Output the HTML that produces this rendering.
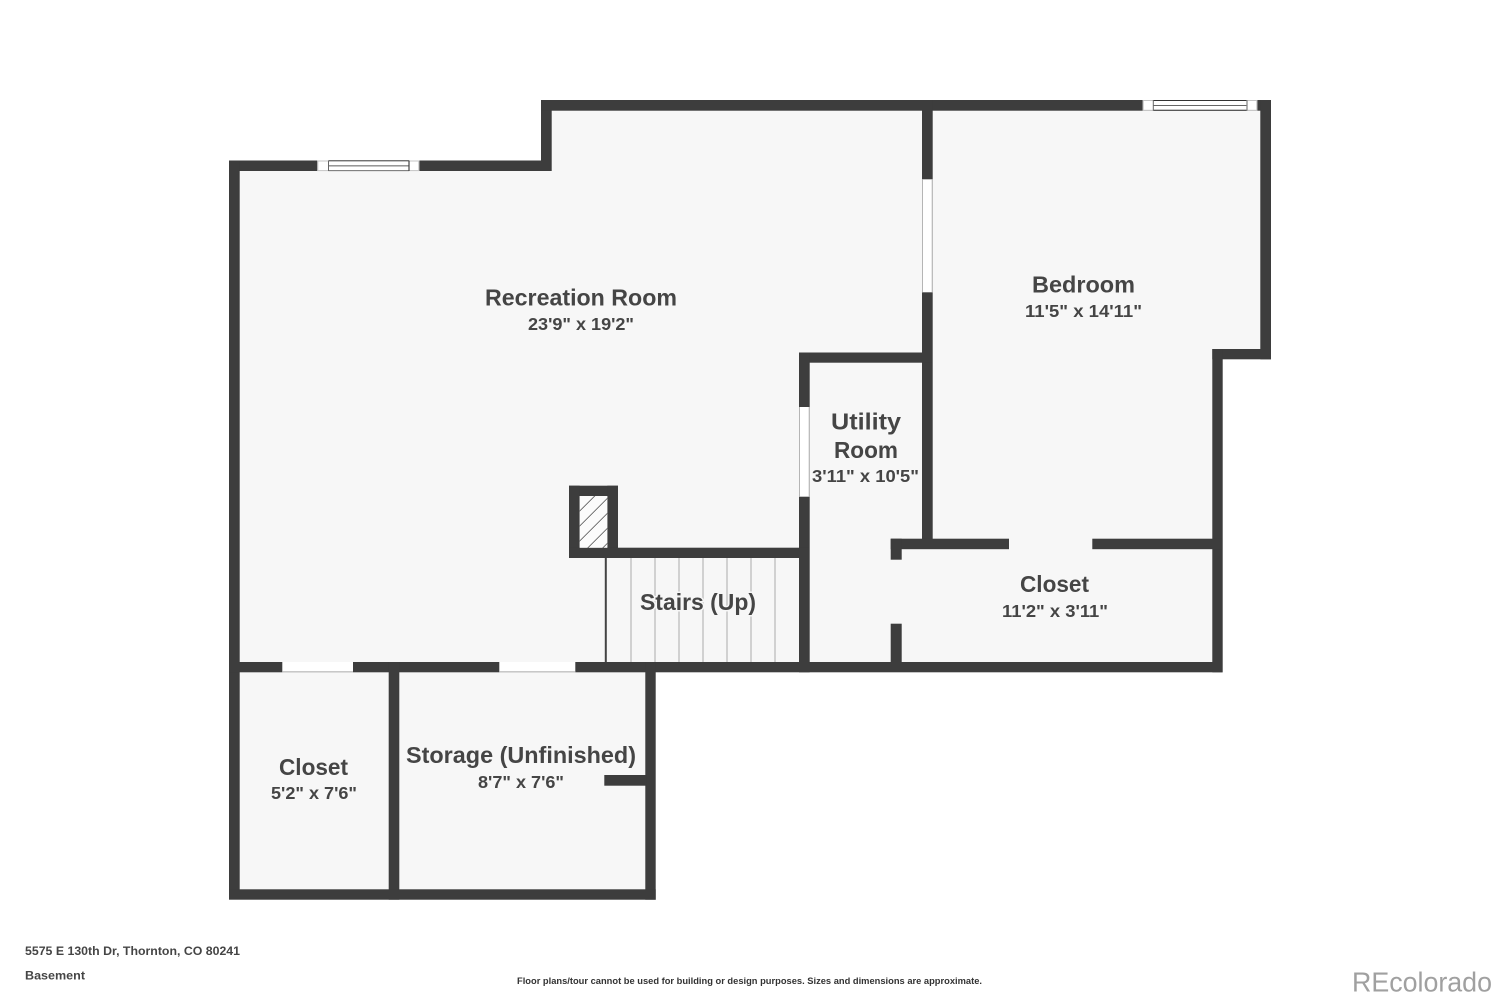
<!DOCTYPE html>
<html>
<head>
<meta charset="utf-8">
<style>
html,body{margin:0;padding:0;background:#fff;width:1500px;height:1000px;overflow:hidden}
svg{display:block}
text{font-family:"Liberation Sans",sans-serif;font-weight:bold;fill:#454545}
.t{font-size:23px}
.d{font-size:17.5px}
</style>
</head>
<body>
<svg width="1500" height="1000" viewBox="0 0 1500 1000" xmlns="http://www.w3.org/2000/svg">
<defs>
<clipPath id="hc"><rect x="579.7" y="496" width="27.6" height="52"/></clipPath>
</defs>
<rect width="1500" height="1000" fill="#fff"/>
<!-- floor -->
<polygon points="229,160.5 541,160.5 541,100 1271,100 1271,359 1222.5,359 1222.5,672 655.5,672 655.5,899.5 229,899.5" fill="#f7f7f7"/>
<!-- walls -->
<g fill="#3d3d3d">
<rect x="229" y="160.5" width="322.5" height="10.5"/>
<rect x="229" y="160.5" width="10.7" height="739"/>
<rect x="541" y="100" width="10.7" height="71"/>
<rect x="541" y="100" width="730" height="10.7"/>
<rect x="922" y="100" width="10.7" height="449"/>
<rect x="1260.3" y="100" width="10.7" height="259.3"/>
<rect x="1212.3" y="349" width="58.7" height="10.3"/>
<rect x="1212.3" y="349" width="10.4" height="323.3"/>
<rect x="799" y="352.5" width="133" height="10.2"/>
<rect x="799" y="352.5" width="10.7" height="319.8"/>
<rect x="569" y="485.7" width="49" height="10.3"/>
<rect x="569" y="485.7" width="10.7" height="72.3"/>
<rect x="607.3" y="485.7" width="10.7" height="72.3"/>
<rect x="569" y="547.7" width="240" height="10.3"/>
<rect x="890.7" y="538.7" width="118.3" height="10.5"/>
<rect x="1092.3" y="538.7" width="130" height="10.5"/>
<rect x="890.7" y="538.7" width="11" height="21"/>
<rect x="890.7" y="623.7" width="11" height="48"/>
<rect x="229" y="662" width="993.5" height="10.3"/>
<rect x="388.7" y="662" width="10.6" height="237.7"/>
<rect x="645.3" y="662" width="10.4" height="237.7"/>
<rect x="229" y="889.3" width="426.7" height="10.4"/>
<rect x="604.3" y="775" width="42" height="10.7"/>
</g>
<!-- hatch -->
<rect x="579.7" y="496" width="27.6" height="51.7" fill="#fbfbfb"/>
<g clip-path="url(#hc)" stroke="#555" stroke-width="0.8">
<line x1="570" y1="520.7" x2="610" y2="480.7"/>
<line x1="570" y1="535.7" x2="620" y2="485.7"/>
<line x1="570" y1="550.7" x2="620" y2="500.7"/>
<line x1="570" y1="565.7" x2="620" y2="515.7"/>
<line x1="570" y1="580.7" x2="620" y2="530.7"/>
<line x1="580" y1="585.7" x2="620" y2="545.7"/>
</g>
<!-- openings -->
<g fill="#fff">
<rect x="922" y="179.3" width="10.7" height="113"/>
<rect x="799" y="407" width="10.7" height="89.7"/>
<rect x="282.3" y="662" width="70.7" height="10.3"/>
<rect x="499.3" y="662" width="76" height="10.3"/>
</g>
<g stroke="#b5b5b5" stroke-width="1" fill="none">
<line x1="922.5" y1="179.3" x2="922.5" y2="292.3"/>
<line x1="932.2" y1="179.3" x2="932.2" y2="292.3"/>
<line x1="799.5" y1="407" x2="799.5" y2="496.7"/>
<line x1="809.2" y1="407" x2="809.2" y2="496.7"/>
<line x1="282.3" y1="671.8" x2="353" y2="671.8"/>
<line x1="499.3" y1="671.8" x2="575.3" y2="671.8"/>
</g>
<!-- window 1 -->
<rect x="317.3" y="160.5" width="102" height="10.5" fill="#fff"/>
<g fill="none">
<rect x="317.8" y="161" width="101" height="9.6" stroke="#c4c4c4" stroke-width="1"/>
<line x1="328.5" y1="160.8" x2="409" y2="160.8" stroke="#444" stroke-width="1"/>
<line x1="328.5" y1="165.8" x2="409" y2="165.8" stroke="#888" stroke-width="1.3"/>
<line x1="328.5" y1="170.6" x2="409" y2="170.6" stroke="#777" stroke-width="1"/>
<line x1="328.5" y1="160.5" x2="328.5" y2="171" stroke="#666" stroke-width="1"/>
<line x1="409" y1="160.5" x2="409" y2="171" stroke="#444" stroke-width="1.2"/>
</g>
<!-- window 2 -->
<rect x="1142.7" y="100" width="114.6" height="10.7" fill="#fff"/>
<g fill="none">
<rect x="1143.2" y="100.5" width="113.6" height="9.8" stroke="#c4c4c4" stroke-width="1"/>
<line x1="1153.3" y1="100.5" x2="1247" y2="100.5" stroke="#333" stroke-width="1"/>
<line x1="1153.3" y1="105.5" x2="1247" y2="105.5" stroke="#666" stroke-width="1"/>
<line x1="1153.3" y1="110.3" x2="1247" y2="110.3" stroke="#333" stroke-width="1"/>
<line x1="1153.3" y1="100" x2="1153.3" y2="110.7" stroke="#666" stroke-width="1"/>
<line x1="1247" y1="100" x2="1247" y2="110.7" stroke="#888" stroke-width="1.3"/>
</g>
<!-- stairs -->
<line x1="605.8" y1="558" x2="605.8" y2="662" stroke="#444" stroke-width="2"/>
<g stroke="#bdbdbd" stroke-width="1.3">
<line x1="631" y1="558" x2="631" y2="662"/>
<line x1="655" y1="558" x2="655" y2="662"/>
<line x1="679" y1="558" x2="679" y2="662"/>
<line x1="703" y1="558" x2="703" y2="662"/>
<line x1="727" y1="558" x2="727" y2="662"/>
<line x1="751" y1="558" x2="751" y2="662"/>
<line x1="775" y1="558" x2="775" y2="662"/>
</g>
<!-- labels -->
<text class="t" x="485" y="305.5" textLength="192" lengthAdjust="spacingAndGlyphs">Recreation Room</text>
<text class="d" x="528" y="330" textLength="106" lengthAdjust="spacingAndGlyphs">23'9" x 19'2"</text>
<text class="t" x="1032" y="292.5" textLength="103" lengthAdjust="spacingAndGlyphs">Bedroom</text>
<text class="d" x="1025" y="317" textLength="117" lengthAdjust="spacingAndGlyphs">11'5" x 14'11"</text>
<text class="t" x="831" y="429.5" textLength="70" lengthAdjust="spacingAndGlyphs">Utility</text>
<text class="t" x="834" y="458" textLength="64" lengthAdjust="spacingAndGlyphs">Room</text>
<text class="d" x="812" y="482" textLength="107" lengthAdjust="spacingAndGlyphs">3'11" x 10'5"</text>
<text class="t" x="640" y="610" textLength="116" lengthAdjust="spacingAndGlyphs" style="paint-order:stroke;stroke:#f7f7f7;stroke-width:3px">Stairs (Up)</text>
<text class="t" x="1020" y="592" textLength="69" lengthAdjust="spacingAndGlyphs">Closet</text>
<text class="d" x="1002" y="617" textLength="106" lengthAdjust="spacingAndGlyphs">11'2" x 3'11"</text>
<text class="t" x="279" y="775" textLength="69" lengthAdjust="spacingAndGlyphs">Closet</text>
<text class="d" x="271" y="799" textLength="86" lengthAdjust="spacingAndGlyphs">5'2" x 7'6"</text>
<text class="t" x="406" y="763" textLength="230" lengthAdjust="spacingAndGlyphs">Storage (Unfinished)</text>
<text class="d" x="478" y="788" textLength="86" lengthAdjust="spacingAndGlyphs">8'7" x 7'6"</text>
<!-- footer -->
<text x="25" y="955" font-size="11.5" textLength="215" lengthAdjust="spacingAndGlyphs">5575 E 130th Dr, Thornton, CO 80241</text>
<text x="25" y="979.5" font-size="11.5" textLength="60" lengthAdjust="spacingAndGlyphs">Basement</text>
<text x="517" y="984" font-size="9" textLength="465" lengthAdjust="spacingAndGlyphs" style="fill:#333">Floor plans/tour cannot be used for building or design purposes. Sizes and dimensions are approximate.</text>
<text x="1352" y="991.5" font-size="27.5" textLength="140" lengthAdjust="spacingAndGlyphs" style="font-weight:normal;fill:#a0a0a0">REcolorado</text>
</svg>
</body>
</html>
